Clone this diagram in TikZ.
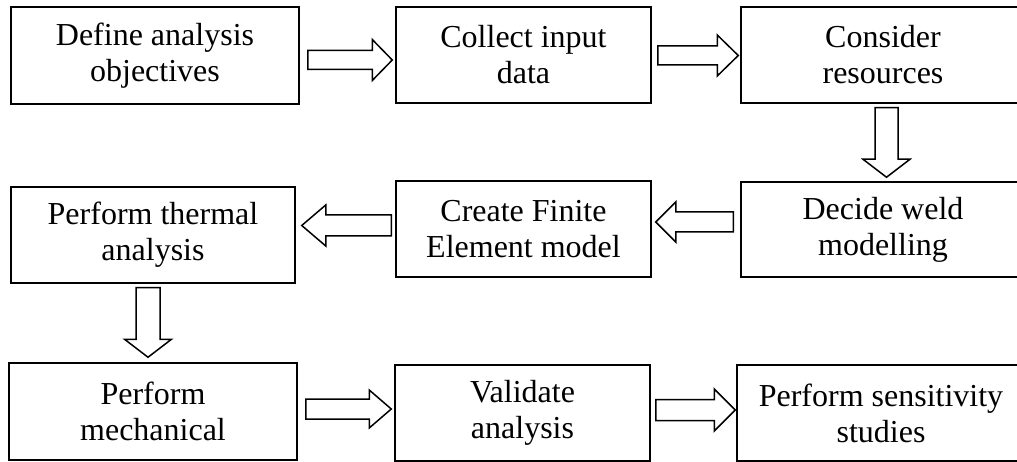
\documentclass[tikz,border=0pt]{standalone}
\usepackage{fontspec}
\setmainfont{Liberation Serif}
\usetikzlibrary{calc}

\tikzset{
  stage/.style={draw, line width=1.5pt, inner sep=0pt, align=center,
    font=\fontsize{32pt}{36pt}\selectfont},
  blockarrow/.style={draw, fill=white, line width=1.5pt, line join=miter},
}

% Hollow block arrow: tail, tip, shaft half-width, head half-width, head length
\newcommand{\blockarrow}[5]{%
  \coordinate (ba-t) at (#1);
  \coordinate (ba-p) at (#2);
  \coordinate (ba-h) at ($(ba-p)!#5!(ba-t)$);
  \draw[blockarrow] ($(ba-t)!#3!90:(ba-p)$) -- ($(ba-h)!#3!90:(ba-p)$)
    -- ($(ba-h)!#4!90:(ba-p)$) -- (ba-p) -- ($(ba-h)!#4!-90:(ba-p)$)
    -- ($(ba-h)!#3!-90:(ba-p)$) -- ($(ba-t)!#3!-90:(ba-p)$) -- cycle;}

\begin{document}
\begin{tikzpicture}[x=1pt, y=1pt]
\useasboundingbox (0,0) rectangle (1017,-462);
\clip (0,0) rectangle (1017,-462);

% first row
\node[stage, minimum width=288pt, minimum height=97pt] (b1) at (155,-55.5) {Define analysis\\objectives};
\node[stage, minimum width=255pt, minimum height=96pt] (b2) at (523.5,-55) {Collect input\\data};
\node[stage, minimum width=284pt, minimum height=96pt] (b3) at (883,-55) {Consider\\resources};

% second row
\node[stage, minimum width=284pt, minimum height=96pt] (b4) at (153,-235) {Perform thermal\\analysis};
\node[stage, minimum width=255pt, minimum height=96pt] (b5) at (523.5,-229) {Create Finite\\Element model};
\node[stage, minimum width=284pt, minimum height=95pt] (b6) at (883,-229.5) {Decide weld\\modelling};

% third row
\node[stage, minimum width=288pt, minimum height=97pt] (b7) at (153,-411.5) {Perform\\mechanical};
\node[stage, minimum width=255pt, minimum height=96pt] (b8) at (522.5,-413) {Validate\\analysis};
\node[stage, minimum width=288pt, minimum height=96pt] (b9) at (881,-413) {Perform sensitivity\\studies};

% connectors
\blockarrow{$(b1.east)+(8,-4.5)$}{$(b2.west)+(-3,-5)$}{9.5pt}{20.5pt}{20pt}
\blockarrow{$(b2.east)+(6,-0.5)$}{$(b3.west)+(-2,-0.5)$}{9.5pt}{20.5pt}{21pt}
\blockarrow{$(b3.south)+(3.5,-4)$}{$(b6.north)+(3.5,4)$}{11.5pt}{23.5pt}{18pt}
\blockarrow{$(b6.west)+(-7,7.5)$}{$(b5.east)+(4,7)$}{10pt}{20pt}{20pt}
\blockarrow{$(b5.west)+(-4,3.5)$}{$(b4.east)+(6,9.5)$}{10.5pt}{20.5pt}{24pt}
\blockarrow{$(b4.south)+(-5,-4)$}{$(b7.north)+(-5,5)$}{12pt}{23.5pt}{18pt}
\blockarrow{$(b7.east)+(8,2.5)$}{$(b8.west)+(-3,4)$}{10pt}{19pt}{22pt}
\blockarrow{$(b8.east)+(5,3)$}{$(b9.west)+(-1,3)$}{10.5pt}{21pt}{21pt}
\end{tikzpicture}
\end{document}
